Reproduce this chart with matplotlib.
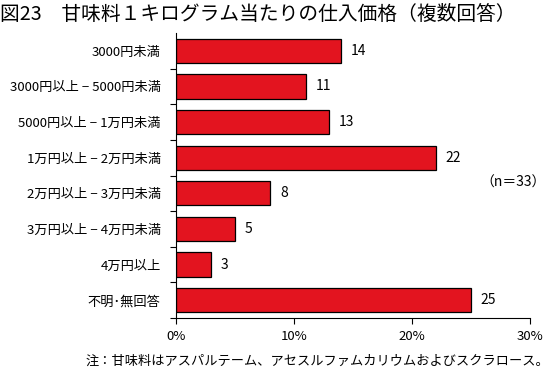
import matplotlib
matplotlib.use("Agg")
import matplotlib.pyplot as plt
import numpy as np

plt.rcParams['font.family'] = ['Noto Sans CJK JP', 'DejaVu Sans']

categories = ["3000円未満", "3000円以上 − 5000円未満", "5000円以上 − 1万円未満",
              "1万円以上 − 2万円未満", "2万円以上 − 3万円未満", "3万円以上 − 4万円未満",
              "4万円以上", "不明･無回答"]
values = [14, 11, 13, 22, 8, 5, 3, 25]
xticks = [0, 10, 20, 30]
xticklabels = ["0%", "10%", "20%", "30%"]
title = "図23　甘味料１キログラム当たりの仕入価格（複数回答）"
note = "注：甘味料はアスパルテーム、アセスルファムカリウムおよびスクラロース。"
ntext = "（n＝33）"

fig = plt.figure(figsize=(5.49, 3.70), dpi=100)
ax = fig.add_axes([176/549, 1-318/370, (530-176)/549, (318-33)/370])

y = np.arange(len(categories))
ax.barh(y, values, height=0.68, color="#E3141F", edgecolor="black", linewidth=0.9)
ax.set_ylim(len(categories)-0.5, -0.5)
ax.set_xlim(0, 30)

for yi, v in zip(y, values):
    ax.annotate(str(v), (v, yi), xytext=(7, 0), textcoords="offset points",
                va="center", ha="left", fontsize=10)

ax.set_yticks(y)
ax.set_yticklabels(categories, fontsize=9.5)
ax.tick_params(axis="y", which="major", length=0, pad=11)
ax.set_yticks(np.arange(-0.5, len(categories), 1)[1:], minor=True)
ax.tick_params(axis="y", which="minor", length=4, direction="out", width=0.8)

ax.set_xticks(xticks)
ax.set_xticklabels(xticklabels, fontsize=9.5)
ax.tick_params(axis="x", length=4, width=0.8, pad=5)

for s in ["top", "right"]:
    ax.spines[s].set_visible(False)
for s in ["left", "bottom"]:
    ax.spines[s].set_linewidth(0.8)

fig.text(0.0, 1-14/370, title, fontsize=14.2, va="center", ha="left")
fig.text(549/549, 1-361/370, note, fontsize=9.5, va="center", ha="right")
ax.text(480/549, 1-183/370, ntext, transform=fig.transFigure, fontsize=10, va="center", ha="left")

fig.savefig("out.png", dpi=100)
